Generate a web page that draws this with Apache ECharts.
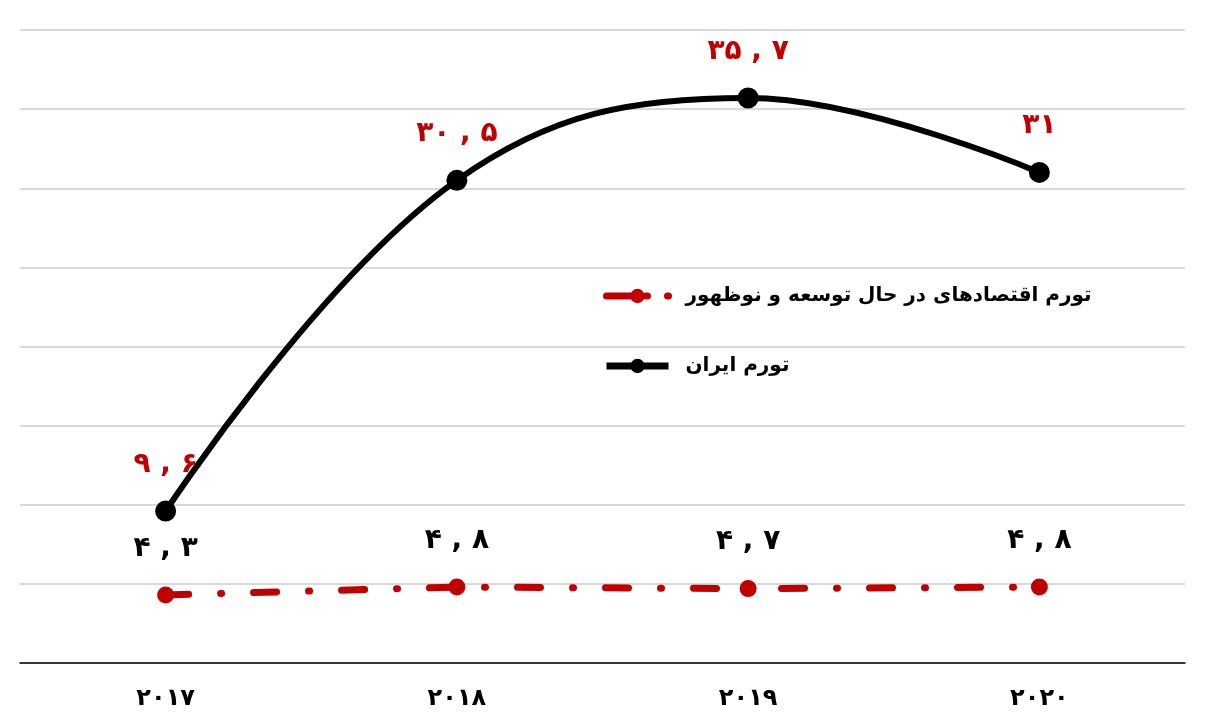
<!DOCTYPE html>
<html>
<head>
<meta charset="utf-8">
<script src="https://cdn.jsdelivr.net/npm/echarts@6/dist/echarts.min.js"></script>
<style>
html,body{margin:0;padding:0;background:#fff;}
#chart{width:1209px;height:716px;}
</style>
</head>
<body>
<div id="chart"></div>
<script>
const years = ['2017', '2018', '2019', '2020'];
const iranInflation = [9.6, 30.5, 35.7, 31];
const emergingInflation = [4.3, 4.8, 4.7, 4.8];
const seriesNames = ['تورم اقتصادهای در حال توسعه و نوظهور', 'تورم ایران'];

function fa(s) {
  return String(s).replace(/[0-9]/g, d => '۰۱۲۳۴۵۶۷۸۹'[+d]).replace('.', ' , ');
}

const FONT = 'DejaVu Sans';
const RED = '#c00000';
const chart = echarts.init(document.getElementById('chart'));
chart.setOption({
  backgroundColor: '#fff',
  animation: false,
  grid: {left: 20, right: 24, top: 30, bottom: 53},
  legend: {
    orient: 'vertical',
    left: 598,
    top: 281,
    itemGap: 50,
    itemWidth: 62,
    itemHeight: 18,
    data: [
      {name: seriesNames[0], lineStyle: {width: 7, type: [30, 10, 1, 20], cap: 'round', color: RED}},
      {name: seriesNames[1], lineStyle: {width: 7, color: '#000'}}
    ],
    textStyle: {fontFamily: FONT, fontSize: 20, fontWeight: 'bold', color: '#000', padding: [0, 0, 0, 12]}
  },
  xAxis: {
    type: 'category',
    data: years,
    boundaryGap: true,
    axisLine: {lineStyle: {color: '#000', width: 1.5}},
    axisTick: {show: false},
    axisLabel: {
      formatter: v => fa(v),
      fontFamily: FONT, fontSize: 24, fontWeight: 'bold', color: '#000', margin: 24
    },
    splitLine: {show: false}
  },
  yAxis: {
    type: 'value',
    min: 0, max: 40, interval: 5,
    axisLine: {show: false},
    axisTick: {show: false},
    axisLabel: {show: false},
    splitLine: {lineStyle: {color: '#d9d9d9', width: 2}}
  },
  series: [
    {
      name: seriesNames[0],
      type: 'line',
      data: emergingInflation,
      symbol: 'circle',
      symbolSize: 17,
      itemStyle: {color: RED},
      lineStyle: {color: RED, width: 7, type: [23, 32, 1, 32], cap: 'round'},
      label: {
        show: true, position: 'top', distance: 24,
        formatter: p => fa(p.value),
        fontFamily: FONT, fontSize: 28, fontWeight: 'bold', color: '#000'
      }
    },
    {
      name: seriesNames[1],
      type: 'line',
      data: iranInflation,
      smooth: 0.4,
      symbol: 'circle',
      symbolSize: 21,
      itemStyle: {color: '#000'},
      lineStyle: {color: '#000', width: 6},
      label: {
        show: true, position: 'top', distance: 22,
        formatter: p => fa(p.value),
        fontFamily: FONT, fontSize: 28, fontWeight: 'bold', color: RED
      }
    }
  ]
});
</script>
</body>
</html>
